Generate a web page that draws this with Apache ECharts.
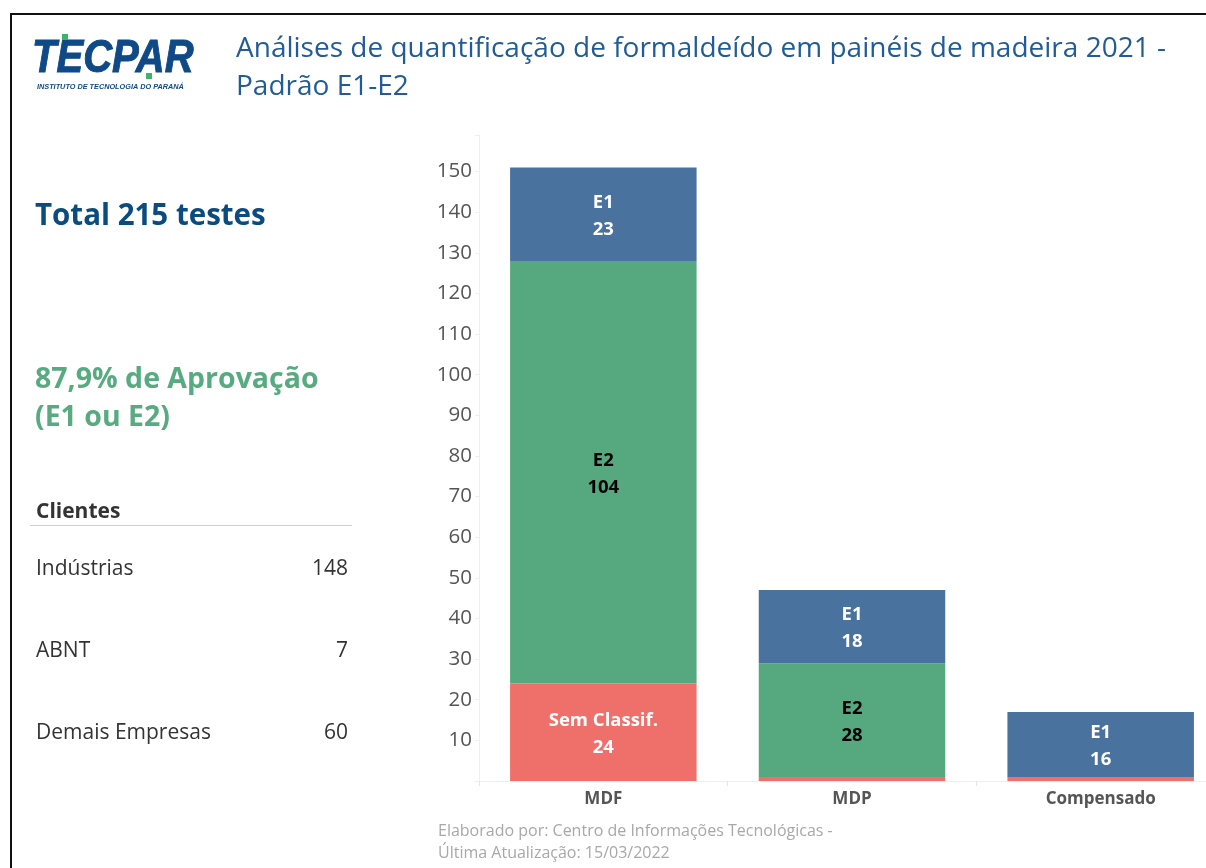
<!DOCTYPE html>
<html>
<head>
<meta charset="utf-8">
<script src="https://cdn.jsdelivr.net/npm/echarts@6/dist/echarts.min.js"></script>
<style>
html,body{margin:0;padding:0;background:#fff;overflow:hidden;width:1206px;height:868px;}
#chart{width:1225px;height:868px;}
</style>
</head>
<body>
<div id="chart"></div>
<script>
// ---- data ----
const categories = ['MDF', 'MDP', 'Compensado'];
const semClassif = [24, 1, 1];
const e2Values = [104, 28, null];
const e1Values = [23, 18, 16];
const yTicks = [10, 20, 30, 40, 50, 60, 70, 80, 90, 100, 110, 120, 130, 140, 150];
const clientes = ['Indústrias', 'ABNT', 'Demais Empresas'];
const clientesValues = [148, 7, 60];
const totalText = 'Total 215 testes';
const aprovText = '87,9% de Aprovação\n(E1 ou E2)';
const titleText = 'Análises de quantificação de formaldeído em painéis de madeira 2021 -\nPadrão E1-E2';
const footerText = 'Elaborado por: Centro de Informações Tecnológicas -\nÚltima Atualização: 15/03/2022';

const FONT = '"Open Sans", "Noto Sans", sans-serif';
const chart = echarts.init(document.getElementById('chart'), null, {renderer: 'canvas'});

function barLabel(color) {
  return {
    show: true,
    position: 'inside',
    offset: [0, 2],
    color: color,
    fontFamily: FONT,
    fontWeight: 'bold',
    fontSize: 18.5,
    lineHeight: 27,
    formatter: p => (p.value == null || p.value < 5) ? '' : p.seriesName + '\n' + p.value
  };
}

const graphics = [
  // frame
  {type: 'rect', shape: {x: 11, y: 14, width: 1260, height: 900}, style: {fill: 'none', stroke: '#111', lineWidth: 2}, silent: true},
  // logo
  {type: 'text', x: 32, y: 36, scaleX: 0.87, style: {text: 'TECPAR', fontFamily: 'Liberation Sans, Arial, sans-serif', fontStyle: 'italic', fontWeight: 'bold', fontSize: 46, fill: '#0f4a86', stroke: '#0f4a86', lineWidth: 1}},
  {type: 'rect', shape: {x: 62, y: 34, width: 6, height: 6}, style: {fill: '#3db36b'}},
  {type: 'rect', shape: {x: 146, y: 73, width: 6, height: 6}, style: {fill: '#3db36b'}},
  {type: 'text', x: 37, y: 83, style: {text: 'INSTITUTO DE TECNOLOGIA DO PARANÁ', fontFamily: 'Liberation Sans, Arial, sans-serif', fontStyle: 'italic', fontWeight: 'bold', fontSize: 7.3, fill: '#0f4a86'}},
  // left panel
  {type: 'text', x: 35, y: 202, style: {text: totalText, fontFamily: FONT, fontWeight: 'bold', fontSize: 29.5, fill: '#0a4c80'}},
  {type: 'text', x: 35, y: 361, style: {text: aprovText, fontFamily: FONT, fontWeight: 'bold', fontSize: 28.5, lineHeight: 38, fill: '#58ab80'}},
  {type: 'text', x: 36, y: 502, style: {text: 'Clientes', fontFamily: FONT, fontWeight: 'bold', fontSize: 21, fill: '#333'}},
  {type: 'line', shape: {x1: 30, y1: 525.5, x2: 352, y2: 525.5}, style: {stroke: '#cfcfcf', lineWidth: 1}},
  // footer
  {type: 'text', x: 438, y: 820, style: {text: footerText, fontFamily: FONT, fontSize: 16, lineHeight: 22, fill: '#a8a8a8'}}
];
const rowY = [569, 651, 733];
clientes.forEach((name, i) => {
  graphics.push({type: 'text', x: 36, y: rowY[i], style: {text: name, fontFamily: FONT, fontSize: 21, fill: '#333', verticalAlign: 'middle', align: 'left'}});
  graphics.push({type: 'text', x: 348, y: rowY[i], style: {text: String(clientesValues[i]), fontFamily: FONT, fontSize: 21, fill: '#333', verticalAlign: 'middle', align: 'right'}});
});

const option = {
  backgroundColor: '#fff',
  animation: false,
  title: {
    text: titleText,
    left: 231,
    top: 25,
    textStyle: {fontFamily: FONT, fontWeight: 'normal', fontSize: 28, lineHeight: 38, color: '#225c97'}
  },
  grid: {left: 479, right: 0, top: 135, bottom: 87, containLabel: false},
  xAxis: {
    type: 'category',
    data: categories,
    axisLine: {show: true, lineStyle: {color: '#eeeeee', width: 1}},
    axisTick: {show: true, length: 5, lineStyle: {color: '#e6e6e6'}},
    axisLabel: {fontFamily: FONT, fontWeight: 'bold', fontSize: 17, color: '#555', margin: 10}
  },
  yAxis: {
    type: 'value',
    min: 0,
    max: 159,
    interval: 10,
    axisLine: {show: true, lineStyle: {color: '#f0f0f0'}},
    axisTick: {show: true, length: 4, lineStyle: {color: '#eeeeee'}},
    splitLine: {show: false},
    axisLabel: {
      fontFamily: FONT, fontSize: 20.5, color: '#555', margin: 7,
      formatter: v => yTicks.indexOf(v) >= 0 ? String(v) : ''
    }
  },
  series: [
    {name: 'Sem Classif.', type: 'bar', stack: 't', data: semClassif, barCategoryGap: '25%', itemStyle: {color: '#ef706a'}, label: barLabel('#fff')},
    {name: 'E2', type: 'bar', stack: 't', data: e2Values, itemStyle: {color: '#56a97e'}, label: barLabel('#000')},
    {name: 'E1', type: 'bar', stack: 't', data: e1Values, itemStyle: {color: '#4a729e'}, label: barLabel('#fff')}
  ],
  graphic: graphics
};
chart.setOption(option);
</script>
</body>
</html>
